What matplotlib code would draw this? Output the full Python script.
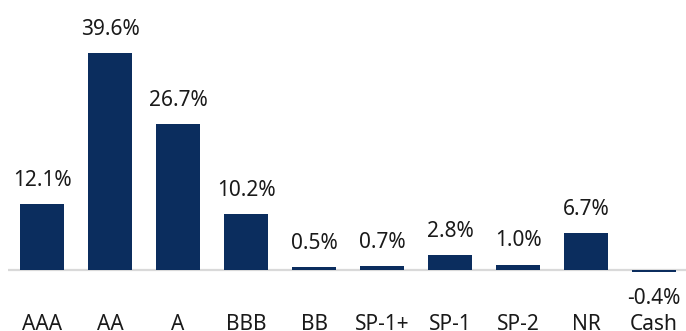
import matplotlib
matplotlib.use("Agg")
import matplotlib.pyplot as plt

plt.rcParams['font.family'] = ['Noto Sans', 'DejaVu Sans']

categories = ["AAA", "AA", "A", "BBB", "BB", "SP-1+", "SP-1", "SP-2", "NR", "Cash"]
values = [12.1, 39.6, 26.7, 10.2, 0.5, 0.7, 2.8, 1.0, 6.7, -0.4]
labels = ["12.1%", "39.6%", "26.7%", "10.2%", "0.5%", "0.7%", "2.8%", "1.0%", "6.7%", "-0.4%"]

bar_color = "#0b2d5e"
text_color = "#1a1a1a"
fs = 15

fig = plt.figure(figsize=(6.86, 3.31), dpi=100)
ax = fig.add_axes([8 / 686, 41 / 331, 680 / 686, 290 / 331])

x = list(range(len(categories)))
ax.bar(x, values, width=0.66, color=bar_color, zorder=2)
ax.axhline(0, color="#d9d9d9", lw=1.6, zorder=1)

ax.set_xlim(-0.5, 9.5)
ax.set_ylim(-3.65, 49.27)

for xi, v, lab in zip(x, values, labels):
    if v >= 0:
        ax.annotate(lab, (xi, v), xytext=(0, 13), textcoords="offset points",
                    ha="center", va="baseline", fontsize=fs, color=text_color)
    else:
        ax.annotate(lab, (xi, v), xytext=(0, -11.5), textcoords="offset points",
                    ha="center", va="top", fontsize=fs, color=text_color)

ax.set_xticks(x)
ax.set_xticklabels(categories, fontsize=fs, color=text_color)
ax.tick_params(axis="x", length=0, pad=17.5)
ax.set_yticks([])
for s in ax.spines.values():
    s.set_visible(False)

fig.savefig("out.png", dpi=100)
